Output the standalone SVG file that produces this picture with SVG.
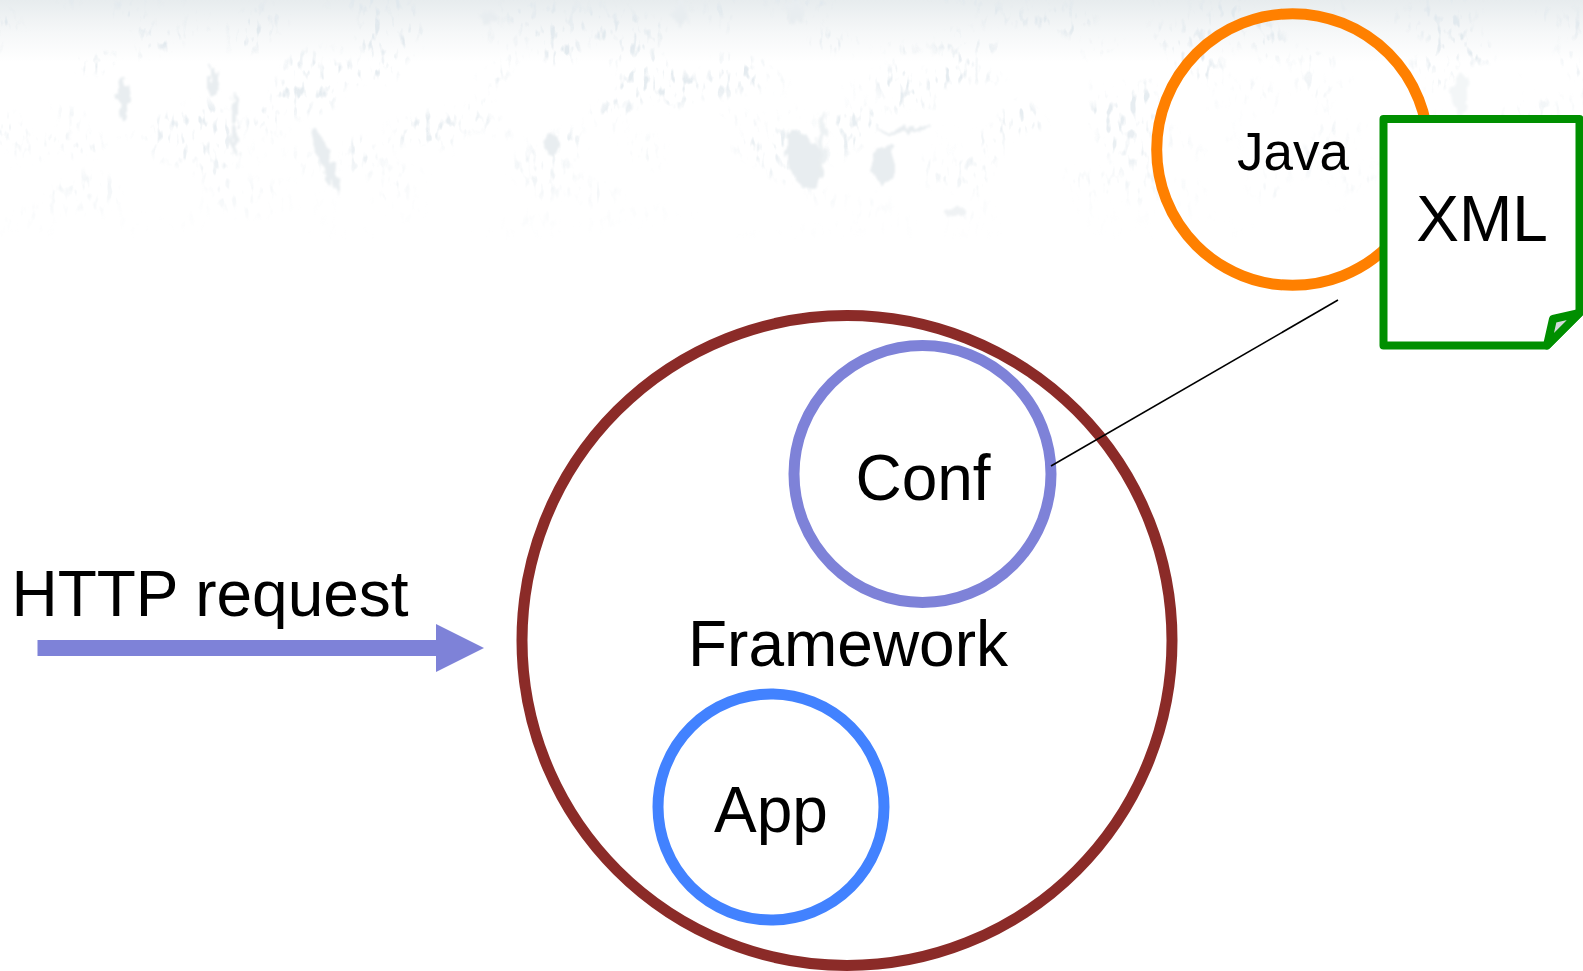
<svg xmlns="http://www.w3.org/2000/svg" width="1583" height="971" viewBox="0 0 1583 971">
<style>
.t{font-family:"Liberation Sans",Arial,sans-serif;fill:#000;text-anchor:middle}
.c{fill:none;stroke-width:11}
.s{fill:#e8edf0}
</style>
<defs>
<linearGradient id="top" x1="0" y1="0" x2="0" y2="1"><stop offset="0" stop-color="#e7ecee"/><stop offset="0.5" stop-color="#f5f7f8"/><stop offset="1" stop-color="#fff"/></linearGradient>
<linearGradient id="fade" x1="0" y1="0" x2="0" y2="1"><stop offset="0" stop-color="#fff"/><stop offset="0.6" stop-color="#fff" stop-opacity="0.7"/><stop offset="1" stop-color="#fff" stop-opacity="0"/></linearGradient>
<mask id="fm" maskUnits="userSpaceOnUse" x="0" y="0" width="1583" height="240"><rect width="1583" height="240" fill="url(#fade)"/></mask>
<filter id="sp" x="0" y="0" width="1" height="1" color-interpolation-filters="sRGB">
<feTurbulence type="fractalNoise" baseFrequency="0.16 0.07" numOctaves="2" seed="7" result="n"/>
<feColorMatrix in="n" type="matrix" values="0 0 0 0 0.88  0 0 0 0 0.91  0 0 0 0 0.93  4 4 0 0 -4.3" result="fine"/>
<feTurbulence type="fractalNoise" baseFrequency="0.012 0.018" numOctaves="2" seed="21" result="m"/>
<feColorMatrix in="m" type="matrix" values="0 0 0 0 1  0 0 0 0 1  0 0 0 0 1  5 5 0 0 -4.9" result="coarse"/>
<feComposite in="fine" in2="coarse" operator="in"/>
</filter>
<filter id="b" x="-5%" y="-5%" width="110%" height="110%">
<feTurbulence type="fractalNoise" baseFrequency="0.15 0.08" numOctaves="2" seed="3" result="d"/>
<feDisplacementMap in="SourceGraphic" in2="d" scale="14" xChannelSelector="R" yChannelSelector="G"/>
<feGaussianBlur stdDeviation="1"/>
</filter>
</defs>
<g id="background">
<rect width="1583" height="971" fill="#fff"/>
<rect width="1583" height="62" fill="url(#top)"/>
<rect width="1583" height="240" filter="url(#sp)" mask="url(#fm)"/>
<g filter="url(#b)">
<ellipse class="s" cx="123" cy="100" rx="5" ry="22"/>
<ellipse class="s" cx="214" cy="80" rx="5" ry="15"/>
<ellipse class="s" cx="235" cy="125" rx="3" ry="32"/>
<ellipse class="s" cx="326" cy="160" rx="6" ry="36" transform="rotate(-22 326 160)"/>
<ellipse class="s" cx="551" cy="144" rx="6" ry="10"/>
<ellipse class="s" cx="488" cy="18" rx="7" ry="7"/>
<ellipse class="s" cx="680" cy="12" rx="7" ry="14"/>
<ellipse class="s" cx="796" cy="12" rx="9" ry="12"/>
<ellipse class="s" cx="805" cy="160" rx="17" ry="30" transform="rotate(-20 805 160)"/>
<ellipse class="s" cx="884" cy="165" rx="12" ry="20"/>
<ellipse class="s" cx="955" cy="212" rx="11" ry="6" opacity=".7"/>
<ellipse class="s" cx="905" cy="130" rx="28" ry="2.5" transform="rotate(-4 905 130)"/>
<ellipse class="s" cx="822" cy="145" rx="3.5" ry="34" opacity=".8"/>
<ellipse class="s" cx="1460" cy="95" rx="8" ry="22" opacity=".5"/>
</g>
</g>
<g id="framework"><circle class="c" cx="847" cy="640.5" r="325" stroke="#8b2b28"/><text class="t" x="848" y="666" font-size="64">Framework</text></g>
<g id="conf"><circle class="c" cx="922.5" cy="474" r="128.5" stroke="#7e82d8"/><text class="t" x="923" y="500" font-size="64">Conf</text></g>
<g id="app"><circle class="c" cx="771" cy="807" r="113" stroke="#4282ff"/><text class="t" x="771" y="832" font-size="64">App</text></g>
<g id="java"><circle class="c" cx="1292.5" cy="149.5" r="135.8" stroke="#ff8000"/><text class="t" x="1293" y="170" font-size="53">Java</text></g>
<g id="xml">
<path d="M1383.5 119H1579.5V313L1547 345.5H1383.5Z" fill="#fff" stroke="#008f00" stroke-width="8" stroke-linejoin="round"/>
<path d="M1579.5 313L1553 319L1547 345.5Z" fill="#d5dadb" stroke="#008f00" stroke-width="8" stroke-linejoin="round"/>
<text class="t" x="1482" y="241" font-size="64">XML</text>
</g>
<g id="http-label"><text class="t" x="210" y="616" font-size="64">HTTP request</text></g>
<g id="connectors">
<path id="http-arrow" fill="#7e82d8" d="M37.5 640H436V624L484 648L436 672V656H37.5Z"/>
<path id="conf-link" fill="none" stroke="#000" stroke-width="1.6" d="M1051 466L1338 300"/>
</g>
</svg>
